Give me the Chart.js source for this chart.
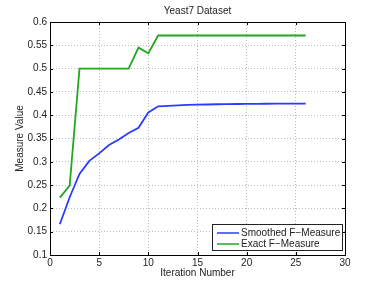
<!DOCTYPE html>
<html>
<head>
<meta charset="utf-8">
<script src="https://cdn.jsdelivr.net/npm/chart.js@4.4.1/dist/chart.umd.min.js"></script>
<style>
  html, body { margin: 0; padding: 0; background: #fff; }
  #wrap { width: 382px; height: 287px; position: relative; }
</style>
</head>
<body>
<div id="wrap"><canvas id="fmChart"></canvas></div>
<script>
// data
const iterations = [1, 2, 3, 4, 5, 6, 7, 8, 9, 10, 11, 12, 13, 14, 15, 16, 17, 18, 19, 20, 21, 22, 23, 24, 25, 26];
const smoothedF = [0.166, 0.224, 0.274, 0.302, 0.318, 0.336, 0.348, 0.362, 0.373, 0.406, 0.419, 0.420, 0.421, 0.422, 0.4225, 0.423, 0.4235, 0.4238, 0.424, 0.4242, 0.4244, 0.4246, 0.4247, 0.4248, 0.4249, 0.425];
const exactF = [0.223, 0.249, 0.5, 0.5, 0.5, 0.5, 0.5, 0.5, 0.545, 0.533, 0.571, 0.571, 0.571, 0.571, 0.571, 0.571, 0.571, 0.571, 0.571, 0.571, 0.571, 0.571, 0.571, 0.571, 0.571, 0.571];
const xTicks = [0, 5, 10, 15, 20, 25, 30];
const yTicks = [0.1, 0.15, 0.2, 0.25, 0.3, 0.35, 0.4, 0.45, 0.5, 0.55, 0.6];

const FONT = 'Liberation Sans, Arial, sans-serif';

function toPoints(xs, ys) {
    return xs.map((x, i) => ({ x: x, y: ys[i] }));
}

// frame, inward ticks and legend box like matlab
const matlabFrame = {
    id: 'matlabFrame',
    afterDraw(chart) {
        const ctx = chart.ctx;
        const a = chart.chartArea;
        const xs = chart.scales.x, ys = chart.scales.y;
        ctx.save();
        ctx.strokeStyle = '#000';
        ctx.lineWidth = 1;
        ctx.beginPath();
        xTicks.forEach(v => {
            const px = Math.round(xs.getPixelForValue(v)) + 0.5;
            ctx.moveTo(px, a.bottom); ctx.lineTo(px, a.bottom - 3);
            ctx.moveTo(px, a.top); ctx.lineTo(px, a.top + 3);
        });
        yTicks.forEach(v => {
            const py = Math.round(ys.getPixelForValue(v)) + 0.5;
            ctx.moveTo(a.left, py); ctx.lineTo(a.left + 3, py);
            ctx.moveTo(a.right, py); ctx.lineTo(a.right - 3, py);
        });
        ctx.stroke();
        ctx.strokeRect(Math.round(a.left) + 0.5, Math.round(a.top) + 0.5,
            Math.round(a.right - a.left), Math.round(a.bottom - a.top));

        // legend
        const lx = a.right - 133, ly = a.bottom - 31, lw = 130, lh = 26;
        ctx.fillStyle = '#fff';
        ctx.fillRect(lx, ly, lw, lh);
        ctx.strokeStyle = '#222';
        ctx.strokeRect(Math.round(lx) + 0.5, Math.round(ly) + 0.5, lw, lh);
        ctx.font = '10px ' + FONT;
        ctx.textBaseline = 'middle';
        chart.data.datasets.forEach((ds, i) => {
            const yy = ly + 9 + i * 11;
            ctx.strokeStyle = ds.borderColor;
            ctx.lineWidth = 1.5;
            ctx.beginPath();
            ctx.moveTo(lx + 5, yy); ctx.lineTo(lx + 27, yy);
            ctx.stroke();
            ctx.fillStyle = '#222';
            ctx.fillText(ds.label, lx + 29, yy + 0.5);
        });
        ctx.restore();
    }
};

const ctx = document.getElementById('fmChart').getContext('2d');
new Chart(ctx, {
    type: 'line',
    data: {
        datasets: [{
            label: 'Smoothed F\u2212Measure',
            data: toPoints(iterations, smoothedF),
            borderColor: '#2b3cff',
            borderWidth: 1.8,
            pointRadius: 0,
            tension: 0,
            fill: false
        }, {
            label: 'Exact F\u2212Measure',
            data: toPoints(iterations, exactF),
            borderColor: '#22a81e',
            borderWidth: 1.8,
            pointRadius: 0,
            tension: 0,
            fill: false
        }]
    },
    options: {
        responsive: true,
        maintainAspectRatio: false,
        animation: false,
        layout: { padding: { left: 14, right: 37, top: 0, bottom: 8 } },
        plugins: {
            legend: { display: false },
            tooltip: { enabled: false },
            title: {
                display: true,
                text: 'Yeast7 Dataset',
                color: '#222',
                fullSize: false,
                font: { family: FONT, size: 10, weight: 'normal' },
                padding: { top: 5, bottom: 5 }
            }
        },
        scales: {
            x: {
                type: 'linear',
                min: 0,
                max: 30,
                afterBuildTicks: s => { s.ticks = xTicks.map(v => ({ value: v })); },
                afterFit: s => { s.height = 24; },
                grid: { color: '#bbb', drawTicks: false, lineWidth: 1 },
                border: { display: false, dash: [1, 2] },
                ticks: {
                    color: '#222',
                    padding: 2,
                    maxRotation: 0,
                    font: { family: FONT, size: 10 }
                },
                title: {
                    display: true,
                    text: 'Iteration Number',
                    color: '#222',
                    padding: { top: 0, bottom: 0 },
                    font: { family: FONT, size: 10 }
                }
            },
            y: {
                min: 0.1,
                max: 0.6,
                afterBuildTicks: s => { s.ticks = yTicks.map(v => ({ value: v })); },
                afterFit: s => { s.width = 36; },
                grid: { color: '#bbb', drawTicks: false, lineWidth: 1 },
                border: { display: false, dash: [1, 2] },
                ticks: {
                    color: '#222',
                    padding: 3,
                    font: { family: FONT, size: 10 },
                    callback: v => String(Math.round(v * 100) / 100)
                },
                title: {
                    display: true,
                    text: 'Measure Value',
                    color: '#222',
                    padding: { top: 0, bottom: 0 },
                    font: { family: FONT, size: 10 }
                }
            }
        }
    },
    plugins: [matlabFrame]
});
</script>
</body>
</html>
